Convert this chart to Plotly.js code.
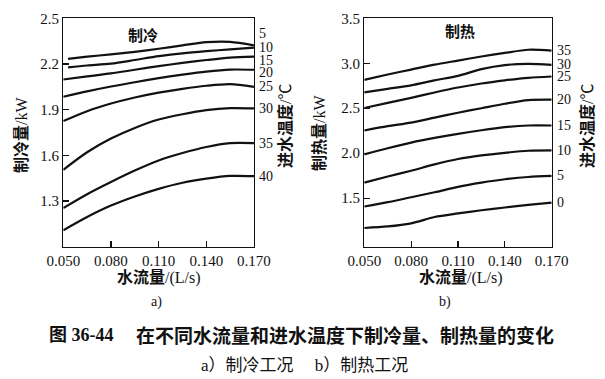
<!DOCTYPE html>
<html><head><meta charset="utf-8">
<script src="https://cdn.plot.ly/plotly-3.0.1.min.js"></script>
<style>html,body{margin:0;padding:0;background:#fff}</style>
</head><body><div id="chart" style="width:605px;height:379px"></div>
<script>
// ---- data ----
const flowX      = [0.050, 0.065, 0.080, 0.095, 0.110, 0.125, 0.140, 0.155, 0.170];
const flowXShort = [0.053, 0.065, 0.080, 0.095, 0.110, 0.125, 0.140, 0.155, 0.170];

const coolTemps = ['5', '10', '15', '20', '25', '30', '35', '40'];
const cool5  = [2.234, 2.248, 2.263, 2.280, 2.300, 2.322, 2.343, 2.345, 2.322];
const cool10 = [2.178, 2.190, 2.202, 2.226, 2.252, 2.270, 2.284, 2.296, 2.307];
const cool15 = [2.098, 2.118, 2.138, 2.162, 2.186, 2.207, 2.226, 2.242, 2.248];
const cool20 = [1.985, 2.020, 2.052, 2.080, 2.107, 2.130, 2.150, 2.163, 2.162];
const cool25 = [1.825, 1.890, 1.940, 1.980, 2.012, 2.037, 2.057, 2.068, 2.050];
const cool30 = [1.505, 1.620, 1.710, 1.780, 1.835, 1.870, 1.897, 1.910, 1.908];
const cool35 = [1.254, 1.345, 1.425, 1.500, 1.566, 1.615, 1.655, 1.680, 1.680];
const cool40 = [1.108, 1.195, 1.270, 1.330, 1.380, 1.420, 1.447, 1.465, 1.463];

const heatTemps = ['35', '30', '25', '20', '15', '10', '5', '0'];
const heat35 = [2.816, 2.875, 2.930, 2.985, 3.030, 3.075, 3.115, 3.150, 3.140];
const heat30 = [2.676, 2.715, 2.755, 2.810, 2.860, 2.935, 2.980, 2.993, 2.983];
const heat25 = [2.502, 2.560, 2.615, 2.675, 2.730, 2.775, 2.810, 2.838, 2.853];
const heat20 = [2.252, 2.300, 2.340, 2.395, 2.450, 2.500, 2.550, 2.590, 2.595];
const heat15 = [1.987, 2.055, 2.118, 2.170, 2.215, 2.255, 2.289, 2.308, 2.308];
const heat10 = [1.673, 1.740, 1.805, 1.875, 1.935, 1.975, 2.004, 2.027, 2.031];
const heat5  = [1.407, 1.455, 1.510, 1.565, 1.625, 1.672, 1.710, 1.735, 1.747];
const heat0  = [1.168, 1.185, 1.220, 1.290, 1.330, 1.365, 1.396, 1.425, 1.451];

const xTickVals = [0.05, 0.08, 0.11, 0.14, 0.17];
const xTickText = ['0.050', '0.080', '0.110', '0.140', '0.170'];
const coolTickVals = [1.3, 1.6, 1.9, 2.2, 2.5];
const coolTickText = ['1.3', '1.6', '1.9', '2.2', '2.5'];
const heatTickVals = [1.5, 2.0, 2.5, 3.0, 3.5];
const heatTickText = ['1.5', '2.0', '2.5', '3.0', '3.5'];

// ---- traces ----
const coolSeries = [cool5, cool10, cool15, cool20, cool25, cool30, cool35, cool40];
const heatSeries = [heat35, heat30, heat25, heat20, heat15, heat10, heat5, heat0];
const lineStyle = {color: '#111', width: 2.2, shape: 'spline', smoothing: 0.8};
const traces = [];
coolSeries.forEach((ys, i) => traces.push({
  x: i < 2 ? flowXShort : flowX, y: ys, xaxis: 'x', yaxis: 'y',
  mode: 'lines', line: lineStyle, showlegend: false, hoverinfo: 'skip'
}));
heatSeries.forEach((ys) => traces.push({
  x: flowX, y: ys, xaxis: 'x2', yaxis: 'y2',
  mode: 'lines', line: lineStyle, showlegend: false, hoverinfo: 'skip'
}));

// ---- layout ----
const serif = "'Liberation Serif', 'Noto Sans CJK SC', serif";
const cjk = "'Noto Sans CJK SC', sans-serif";
const axBase = {
  showline: true, mirror: true, linecolor: '#111', linewidth: 1.3,
  ticks: 'inside', ticklen: 6, tickwidth: 1.2, tickcolor: '#111',
  showgrid: false, zeroline: false, fixedrange: true,
  tickfont: {family: serif, size: 15, color: '#111'}
};
const yDom = [0.3491, 0.9517];

const annotations = [];
const coolShift = [12, 0, -4, -3, 0, 0, 0, 0];
coolSeries.forEach((ys, i) => annotations.push({
  xref: 'x', yref: 'y', x: 0.17, y: ys[ys.length - 1], text: coolTemps[i],
  xanchor: 'left', yanchor: 'middle', xshift: 3, yshift: coolShift[i], showarrow: false,
  font: {family: serif, size: 14, color: '#111'}
}));
heatSeries.forEach((ys, i) => annotations.push({
  xref: 'x2', yref: 'y2', x: 0.17, y: ys[ys.length - 1], text: heatTemps[i],
  xanchor: 'left', yanchor: 'middle', xshift: 3, showarrow: false,
  font: {family: serif, size: 14, color: '#111'}
}));
function txt(text, x, y, font, extra) {
  annotations.push(Object.assign({xref: 'paper', yref: 'paper', x: x, y: y, text: text,
    showarrow: false, xanchor: 'center', yanchor: 'middle', font: font}, extra || {}));
}
const f16 = {family: serif, size: 16, color: '#111'};
const f14 = {family: serif, size: 14, color: '#111'};
txt('<b>制冷</b>', 0.2364, 0.9077, {family: cjk, size: 15, color: '#111'});
txt('<b>制热</b>', 0.7603, 0.9208, {family: cjk, size: 15, color: '#111'});
txt('<b>水流量</b>/(L/s)', 0.2628, 0.2665, f16);
txt('<b>水流量</b>/(L/s)', 0.7612, 0.2665, f16);
txt('a)', 0.2595, 0.2020, f14);
txt('b)', 0.7355, 0.2020, f14);
txt('<b>制冷量</b>/kW', 0.0347, 0.6438, f16, {textangle: -90});
txt('<b>制热量</b>/kW', 0.5289, 0.6491, f16, {textangle: -90});
txt('<b>进水温度</b>/℃', 0.4711, 0.6675, f16, {textangle: -90});
txt('<b>进水温度</b>/℃', 0.9702, 0.6675, f16, {textangle: -90});
txt('<b>图 36-44</b>', 0.1347, 0.1161, {family: serif, size: 18, color: '#111'});
txt('<b>在不同水流量和进水温度下制冷量、制热量的变化</b>', 0.5702, 0.1161, {family: cjk, size: 19, color: '#111'});
txt('a）制冷工况　 b）制热工况', 0.5025, 0.0369, {family: serif, size: 17, color: '#111'});

const layout = {
  width: 605, height: 379,
  margin: {l: 0, r: 0, t: 0, b: 0},
  paper_bgcolor: '#fff', plot_bgcolor: '#fff',
  showlegend: false,
  font: {family: serif, size: 14, color: '#111'},
  xaxis: Object.assign({}, axBase, {domain: [0.1046, 0.4198], range: [0.05, 0.17],
    tickvals: xTickVals, ticktext: xTickText, anchor: 'y'}),
  yaxis: Object.assign({}, axBase, {domain: yDom, range: [1.0, 2.5],
    tickvals: coolTickVals, ticktext: coolTickText, anchor: 'x'}),
  xaxis2: Object.assign({}, axBase, {domain: [0.6021, 0.9119], range: [0.05, 0.17],
    tickvals: xTickVals, ticktext: xTickText, anchor: 'y2'}),
  yaxis2: Object.assign({}, axBase, {domain: yDom, range: [0.96, 3.5],
    tickvals: heatTickVals, ticktext: heatTickText, anchor: 'x2'}),
  annotations: annotations
};
Plotly.newPlot('chart', traces, layout, {staticPlot: true, displayModeBar: false});
</script></body></html>
